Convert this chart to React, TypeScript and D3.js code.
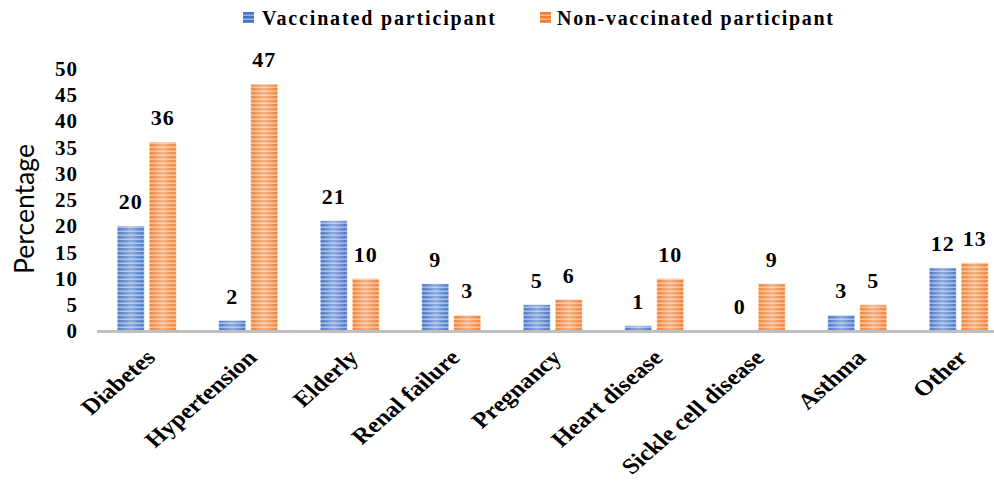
import React from "react";
import * as d3 from "d3";

const categories = [
  "Diabetes",
  "Hypertension",
  "Elderly",
  "Renal failure",
  "Pregnancy",
  "Heart disease",
  "Sickle cell disease",
  "Asthma",
  "Other",
];
const seriesNames = ["Vaccinated participant", "Non-vaccinated participant"];
const vaccinated = [20, 2, 21, 9, 5, 1, 0, 3, 12];
const nonVaccinated = [36, 47, 10, 3, 6, 10, 9, 5, 13];
const yTicks = [0, 5, 10, 15, 20, 25, 30, 35, 40, 45, 50];

const W = 994;
const H = 488;
const colors = ["#4472C4", "#ED7D31"];
const serif = "'Liberation Serif', 'Times New Roman', serif";

export default function App() {
  const y = d3.scaleLinear().domain([0, 50]).range([331, 68.5]);
  const x0 = d3
    .scaleBand<string>()
    .domain(categories)
    .range([96, 1009.5])
    .paddingInner(0.419)
    .paddingOuter(0.2095);
  const x1 = d3
    .scaleBand<string>()
    .domain(seriesNames)
    .range([0, x0.bandwidth()])
    .paddingInner(0.156);

  const rows = categories.map((c, i) => ({
    category: c,
    values: [vaccinated[i], nonVaccinated[i]],
  }));

  const legendItems = [
    { name: seriesNames[0], sq: 243, tx: 262, len: 233 },
    { name: seriesNames[1], sq: 540, tx: 557, len: 276 },
  ];

  return (
    <svg
      width={W}
      height={H}
      style={{ position: "absolute", left: 0, top: 0, background: "#fff" }}
    >
      <defs>
        {colors.map((c, i) => (
          <pattern
            key={i}
            id={`stripes${i}`}
            patternUnits="userSpaceOnUse"
            width={8}
            height={4}
          >
            <rect width={8} height={4} fill={c} />
            <rect y={2.5} width={8} height={1.5} fill="#fff" opacity={0.45} />
          </pattern>
        ))}
        <linearGradient id="sheen" x1="0" x2="1" y1="0" y2="0">
          <stop offset="0" stopColor="#fff" stopOpacity={0.05} />
          <stop offset="0.5" stopColor="#fff" stopOpacity={0.4} />
          <stop offset="1" stopColor="#fff" stopOpacity={0.05} />
        </linearGradient>
      </defs>

      {/* legend */}
      {legendItems.map((l, i) => (
        <g key={l.name}>
          <rect x={l.sq} y={12} width={11} height={11} fill={`url(#stripes${i})`} />
          <text
            x={l.tx}
            y={25}
            fontFamily={serif}
            fontWeight="bold"
            fontSize={20}
            textLength={l.len}
            lengthAdjust="spacing"
            fill="#000"
          >
            {l.name}
          </text>
        </g>
      ))}

      {/* y axis title */}
      <text
        transform={`translate(34,209) rotate(-90)`}
        textAnchor="middle"
        fontFamily="Lato, 'Open Sans', sans-serif"
        fontSize={27}
        textLength={130}
        lengthAdjust="spacingAndGlyphs"
        fill="#000"
      >
        Percentage
      </text>

      {/* y tick labels */}
      {yTicks.map((t) => (
        <text
          key={t}
          x={78}
          y={y(t)}
          dy="0.35em"
          textAnchor="end"
          fontFamily={serif}
          fontWeight="bold"
          fontSize={21}
          letterSpacing={1}
          fill="#000"
        >
          {t}
        </text>
      ))}

      {/* bars */}
      {rows.map((r) => (
        <g key={r.category} transform={`translate(${x0(r.category)},0)`}>
          {r.values.map((v, si) => {
            const bx = x1(seriesNames[si])!;
            const bw = x1.bandwidth();
            const top = y(v);
            const h = y(0) - top;
            return (
              <g key={si}>
                {h > 0 && (
                  <>
                    <rect x={bx} y={top} width={bw} height={h} fill={`url(#stripes${si})`} />
                    <rect
                      x={bx}
                      y={top}
                      width={bw}
                      height={h}
                      fill="url(#sheen)"
                      stroke="#fff"
                      strokeOpacity={0.5}
                      strokeWidth={1}
                    />
                  </>
                )}
                <text
                  x={bx + bw / 2}
                  y={top - 17}
                  textAnchor="middle"
                  fontFamily={serif}
                  fontWeight="bold"
                  fontSize={22}
                  letterSpacing={1}
                  fill="#000"
                >
                  {v}
                </text>
              </g>
            );
          })}
        </g>
      ))}

      {/* baseline */}
      <line x1={97} x2={W} y1={y(0) + 0.5} y2={y(0) + 0.5} stroke="#bfbfbf" strokeWidth={3} />

      {/* category labels, slanted and slightly widened */}
      {categories.map((c) => {
        const cx = x0(c)! + x0.bandwidth() / 2;
        return (
          <text
            key={c}
            transform={`translate(${cx + 10},359) scale(1.15,1) rotate(-45)`}
            textAnchor="end"
            fontFamily={serif}
            fontWeight="bold"
            fontSize={22}
            fill="#000"
          >
            {c}
          </text>
        );
      })}
    </svg>
  );
}
